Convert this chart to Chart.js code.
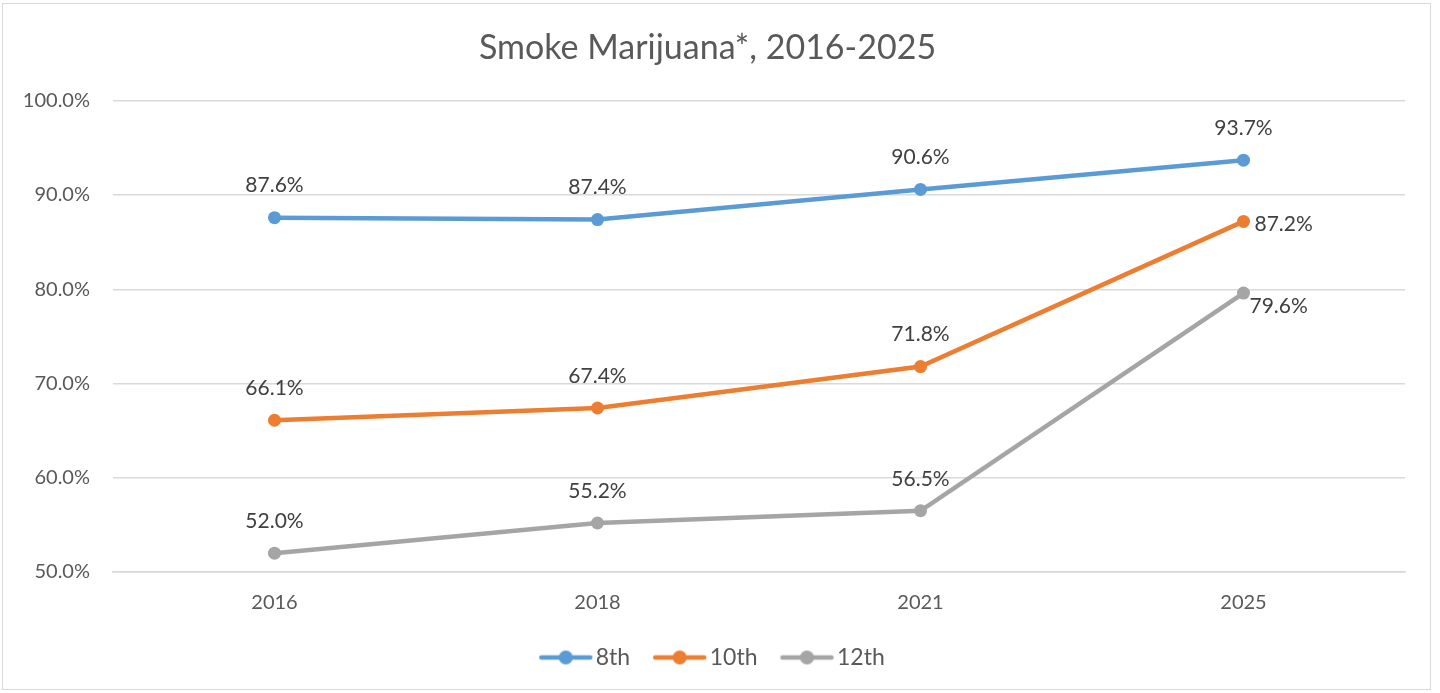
<!DOCTYPE html>
<html>
<head>
<meta charset="utf-8">
<script src="https://cdn.jsdelivr.net/npm/chart.js@4.4.0/dist/chart.umd.min.js"></script>
<style>
  html, body { margin: 0; padding: 0; background: #fff; }
  #wrap { position: relative; width: 1440px; height: 693px; }
  #frame { position: absolute; left: 2px; top: 3px; width: 1429px; height: 687px; border: 1.5px solid #d9d9d9; box-sizing: border-box; pointer-events: none; }
</style>
</head>
<body>
<div id="wrap">
  <canvas id="smokeChart" width="1440" height="693"></canvas>
  <div id="frame"></div>
</div>
<script>
// chart data
const years = ['2016', '2018', '2021', '2025'];
const grade8 = [87.6, 87.4, 90.6, 93.7];
const grade10 = [66.1, 67.4, 71.8, 87.2];
const grade12 = [52.0, 55.2, 56.5, 79.6];
const seriesNames = ['8th', '10th', '12th'];
const yTicks = [50, 60, 70, 80, 90, 100];

const colors = ['#5B9BD5', '#ED7D31', '#A5A5A5'];
// where each value label sits: 'top', 'right', 'belowRight'
const labelPlace = [
    ['top', 'top', 'top', 'top'],
    ['top', 'top', 'top', 'right'],
    ['top', 'top', 'top', 'belowRight']
];

const fontFamily = 'Lato, "Noto Sans", sans-serif';

// legend marker: a short line with a dot on it (left part of the image is blank on purpose)
function legendMarker(color) {
    const c = document.createElement('canvas');
    c.width = 72;
    c.height = 16;
    const ctx = c.getContext('2d');
    ctx.strokeStyle = color;
    ctx.lineWidth = 4.5;
    ctx.lineCap = 'round';
    ctx.beginPath();
    ctx.moveTo(20, 8);
    ctx.lineTo(69, 8);
    ctx.stroke();
    ctx.fillStyle = color;
    ctx.beginPath();
    ctx.arc(44.5, 8, 7, 0, Math.PI * 2);
    ctx.fill();
    return c;
}

// value labels drawn next to each point
const valueLabels = {
    id: 'valueLabels',
    afterDatasetsDraw(chart) {
        const ctx = chart.ctx;
        ctx.save();
        ctx.font = '21px ' + fontFamily;
        ctx.fillStyle = '#404040';
        ctx.textBaseline = 'middle';
        chart.data.datasets.forEach((ds, i) => {
            const meta = chart.getDatasetMeta(i);
            meta.data.forEach((pt, j) => {
                const text = ds.data[j].toFixed(1) + '%';
                const place = labelPlace[i][j];
                if (place === 'right') {
                    ctx.textAlign = 'left';
                    ctx.fillText(text, pt.x + 11, pt.y + 3);
                } else if (place === 'belowRight') {
                    ctx.textAlign = 'left';
                    ctx.fillText(text, pt.x + 6, pt.y + 13);
                } else {
                    ctx.textAlign = 'center';
                    ctx.fillText(text, pt.x, pt.y - 32);
                }
            });
        });
        ctx.restore();
    }
};

const allSeries = [grade8, grade10, grade12];

new Chart(document.getElementById('smokeChart').getContext('2d'), {
    type: 'line',
    data: {
        labels: years,
        datasets: allSeries.map((vals, i) => ({
            label: seriesNames[i],
            data: vals,
            borderColor: colors[i],
            backgroundColor: colors[i],
            borderWidth: 4.5,
            pointRadius: 6.5,
            pointHoverRadius: 7,
            pointBorderWidth: 0,
            tension: 0,
            fill: false
        }))
    },
    options: {
        responsive: false,
        animation: false,
        layout: {
            padding: { top: 22, left: 10, right: 35, bottom: 14 }
        },
        plugins: {
            title: {
                display: true,
                text: 'Smoke Marijuana*, 2016-2025',
                color: '#595959',
                font: { family: fontFamily, size: 34, weight: 'normal' },
                padding: { top: 6, bottom: 32 }
            },
            legend: {
                display: true,
                position: 'bottom',
                labels: {
                    color: '#595959',
                    font: { family: fontFamily, size: 23 },
                    usePointStyle: true,
                    pointStyleWidth: 54,
                    boxHeight: 16,
                    padding: 14,
                    generateLabels(chart) {
                        return chart.data.datasets.map((ds, i) => ({
                            text: ds.label,
                            pointStyle: legendMarker(colors[i]),
                            fillStyle: colors[i],
                            strokeStyle: colors[i],
                            fontColor: '#595959',
                            lineWidth: 0,
                            datasetIndex: i
                        }));
                    }
                }
            },
            tooltip: { enabled: false }
        },
        scales: {
            x: {
                offset: true,
                grid: { display: false, drawTicks: false },
                border: { color: '#d9d9d9', width: 1.5 },
                afterFit(scale) {
                    scale.height = 60;
                },
                ticks: {
                    color: '#595959',
                    font: { family: fontFamily, size: 20 },
                    padding: 19
                }
            },
            y: {
                min: yTicks[0],
                max: yTicks[yTicks.length - 1],
                afterBuildTicks(scale) {
                    scale.ticks = yTicks.map(v => ({ value: v }));
                },
                afterFit(scale) {
                    scale.width = 103;
                },
                grid: { color: '#d9d9d9', lineWidth: 1.5, drawTicks: false },
                border: { display: false },
                ticks: {
                    color: '#595959',
                    font: { family: fontFamily, size: 20 },
                    padding: 23,
                    callback: function(value) {
                        return value.toFixed(1) + '%';
                    }
                }
            }
        }
    },
    plugins: [valueLabels]
});
</script>
</body>
</html>
